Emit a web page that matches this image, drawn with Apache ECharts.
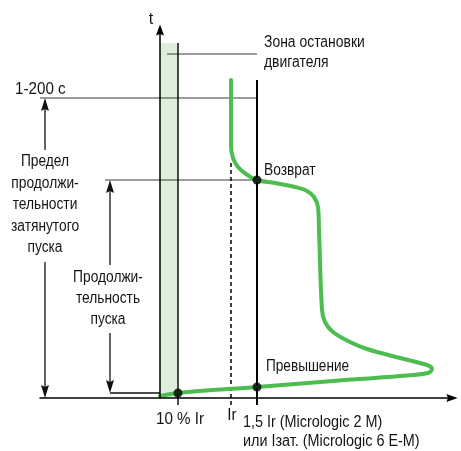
<!DOCTYPE html>
<html>
<head>
<meta charset="utf-8">
<script src="https://cdn.jsdelivr.net/npm/echarts@6/dist/echarts.min.js"></script>
<style>
  html, body { margin: 0; padding: 0; background: #ffffff; }
  #chart { width: 461px; height: 451px; }
</style>
</head>
<body>
<div id="chart"></div>
<script>
// Motor long-start protection diagram.
// Diagram units: x = current, y = time; origin at the crossing of the axes.

// Characteristic current positions on the current axis
const currentStopZone = 18;   // 10 % Ir
const currentIr = 71;         // Ir
const currentOverload = 97;   // 1,5 Ir / Iзат.

// Characteristic time levels
const timeStopZoneTop = 355;
const timeLimit = 300;        // 1-200 с
const timeStart = 218;        // end of the start (Возврат)
const timeStartLevel = 5;     // start point level

// Trip curve of the starting current [current, time]
const tripCurve = [
  [71, 318], [71, 253], [73, 240], [78, 231], [86, 224], [97, 218],
  [115, 215], [135, 211], [147, 207], [154, 201], [158, 191], [159, 168],
  [162, 88], [165, 76], [173, 66], [190, 56], [207, 49], [240, 40],
  [267, 33], [272, 29], [268, 25], [240, 22], [173, 17], [97, 11],
  [18, 5], [0, 2]
];

// Marked points on the curve
const markedPoints = [[97, 218], [97, 11], [18, 5]];

// Texts
const axisTitle = 't';
const limitLabel = '1-200 с';
const limitNote = ['Предел', 'продолжи-', 'тельности', 'затянутого', 'пуска'];
const startNote = ['Продолжи-', 'тельность', 'пуска'];
const stopZoneNote = ['Зона остановки', 'двигателя'];
const returnLabel = 'Возврат';
const overLabel = 'Превышение';
const tickStop = '10 % Ir';
const tickIr = 'Ir';
const tickOverload = ['1,5 Ir (Micrologic 2 M)', 'или Iзат. (Micrologic 6 E-M)'];

const FONT_FAMILY = '"Liberation Sans", Arial, sans-serif';
const TEXT = '#141414';
const GREEN = '#4dbd4f';
const BAND = '#dcefd8';

// Straight segments, grouped by drawing style: [x1, y1, x2, y2]
const guideSegments = [
  [7, 344, currentOverload, 344],
  [-120, timeLimit, currentOverload, timeLimit],
  [-55, timeStart, currentOverload, timeStart]
];
const solidSegments = [
  [currentStopZone, timeStopZoneTop, currentStopZone, -7],
  [-50, timeStartLevel, 0, timeStartLevel]
];
const boldSegments = [
  [currentOverload, 318, currentOverload, -7]
];
const dashedSegments = [
  [currentIr, 235, currentIr, -7]
];
// Dimension arrows: [fromX, fromY, tipX, tipY]
const dimArrows = [
  [-115, 248, -115, timeLimit],
  [-115, 136, -115, 0],
  [-50, 133, -50, timeStart],
  [-50, 65, -50, timeStartLevel]
];

function segmentSeries(data, style, z) {
  return {
    type: 'custom', z: z, silent: true, clip: false,
    renderItem: function (params, api) {
      const a = api.coord([api.value(0), api.value(1)]);
      const b = api.coord([api.value(2), api.value(3)]);
      return {
        type: 'line',
        shape: { x1: a[0], y1: a[1], x2: b[0], y2: b[1] },
        style: Object.assign({ fill: null }, style)
      };
    },
    encode: { x: [0, 2], y: [1, 3] },
    data: data
  };
}

const arrowSeries = {
  type: 'custom', z: 5, silent: true, clip: false,
  renderItem: function (params, api) {
    const a = api.coord([api.value(0), api.value(1)]);
    const b = api.coord([api.value(2), api.value(3)]);
    const dx = b[0] - a[0], dy = b[1] - a[1];
    const len = Math.hypot(dx, dy) || 1;
    const ux = dx / len, uy = dy / len;
    const hl = 13, hw = 4;
    const base = [b[0] - ux * hl, b[1] - uy * hl];
    const notch = [b[0] - ux * (hl - 2), b[1] - uy * (hl - 2)];
    return {
      type: 'group',
      children: [
        { type: 'line', shape: { x1: a[0], y1: a[1], x2: notch[0], y2: notch[1] },
          style: { stroke: '#111', lineWidth: 1.3 } },
        { type: 'polygon',
          shape: { points: [b, [base[0] - uy * hw, base[1] + ux * hw], notch, [base[0] + uy * hw, base[1] - ux * hw]] },
          style: { fill: '#111' } }
      ]
    };
  },
  encode: { x: [0, 2], y: [1, 3] },
  data: dimArrows
};

const bandSeries = {
  type: 'custom', z: 1, silent: true, clip: false,
  renderItem: function (params, api) {
    const p0 = api.coord([api.value(0), api.value(1)]);
    const p1 = api.coord([api.value(2), api.value(3)]);
    return {
      type: 'rect',
      shape: { x: p0[0], y: p1[1], width: p1[0] - p0[0], height: p0[1] - p1[1] },
      style: { fill: BAND }
    };
  },
  encode: { x: [0, 2], y: [1, 3] },
  data: [[0, 0, currentStopZone, timeStopZoneTop]]
};

// Text blocks: anchor in diagram units, alignment, size and horizontal condensing
const textBlocks = [
  { at: [-9, 378], text: axisTitle, align: 'center', size: 16, sx: 1 },
  { at: [-145, 308.5], text: limitLabel, align: 'left', size: 16, sx: 0.95 },
  { at: [-115, 193], text: limitNote.join('\n'), align: 'center', size: 16, sx: 0.86, lh: 21.5 },
  { at: [-52, 99], text: startNote.join('\n'), align: 'center', size: 16, sx: 0.86, lh: 21 },
  { at: [104, 345], text: stopZoneNote.join('\n'), align: 'left', size: 16, sx: 0.87, lh: 20 },
  { at: [104, 227], text: returnLabel, align: 'left', size: 16, sx: 0.86 },
  { at: [106, 31], text: overLabel, align: 'left', size: 16, sx: 0.85 },
  { at: [20, -22], text: tickStop, align: 'center', size: 16, sx: 0.95 },
  { at: [72, -18], text: tickIr, align: 'center', size: 16, sx: 0.95 },
  { at: [83, -34.5], text: tickOverload.join('\n'), align: 'left', size: 16, sx: 0.9, lh: 19 }
];

const textSeries = {
  type: 'custom', z: 20, silent: true, clip: false,
  renderItem: function (params, api) {
    const b = textBlocks[params.dataIndex];
    const p = api.coord([api.value(0), api.value(1)]);
    return {
      type: 'text',
      x: p[0], y: p[1], scaleX: b.sx,
      style: {
        text: b.text, fill: TEXT,
        font: b.size + 'px ' + FONT_FAMILY,
        align: b.align, verticalAlign: 'middle',
        lineHeight: b.lh || b.size
      }
    };
  },
  encode: { x: 0, y: 1 },
  data: textBlocks.map(function (b) { return b.at; })
};

const chart = echarts.init(document.getElementById('chart'), null, { renderer: 'canvas' });
chart.setOption({
  animation: false,
  backgroundColor: '#ffffff',
  grid: { left: 40, right: 9, top: 30, bottom: 53, containLabel: false, outerBoundsMode: 'none' },
  xAxis: {
    type: 'value', min: -120, max: 292, z: 10,
    splitLine: { show: false }, axisTick: { show: false }, axisLabel: { show: false },
    axisLine: { show: true, onZero: true, symbol: ['none', 'path://M5,0 L10,14 L5,12 L0,14 Z'], symbolSize: [8, 13],
      lineStyle: { color: '#000', width: 1.5 } }
  },
  yAxis: {
    type: 'value', min: 0, max: 368, z: 10,
    splitLine: { show: false }, axisTick: { show: false }, axisLabel: { show: false },
    axisLine: { show: true, onZero: true, symbol: ['none', 'path://M5,0 L10,14 L5,12 L0,14 Z'], symbolSize: [8, 13],
      lineStyle: { color: '#000', width: 1.5 } }
  },
  series: [
    bandSeries,
    segmentSeries(guideSegments, { stroke: '#3a3a3a', lineWidth: 1 }, 3),
    segmentSeries(solidSegments, { stroke: '#111', lineWidth: 1.5 }, 3),
    segmentSeries(boldSegments, { stroke: '#000', lineWidth: 2 }, 3),
    segmentSeries(dashedSegments, { stroke: '#000', lineWidth: 1.5, lineDash: [4, 3] }, 3),
    arrowSeries,
    {
      type: 'line', z: 6, silent: true, clip: false,
      data: tripCurve, smooth: 0.35, smoothMonotone: null,
      showSymbol: false, symbol: 'none',
      lineStyle: { color: GREEN, width: 4, cap: 'round', join: 'round' }
    },
    {
      type: 'scatter', z: 12, silent: true, clip: false,
      data: markedPoints, symbolSize: 9,
      itemStyle: { color: '#000' }
    },
    textSeries
  ]
});
</script>
</body>
</html>
